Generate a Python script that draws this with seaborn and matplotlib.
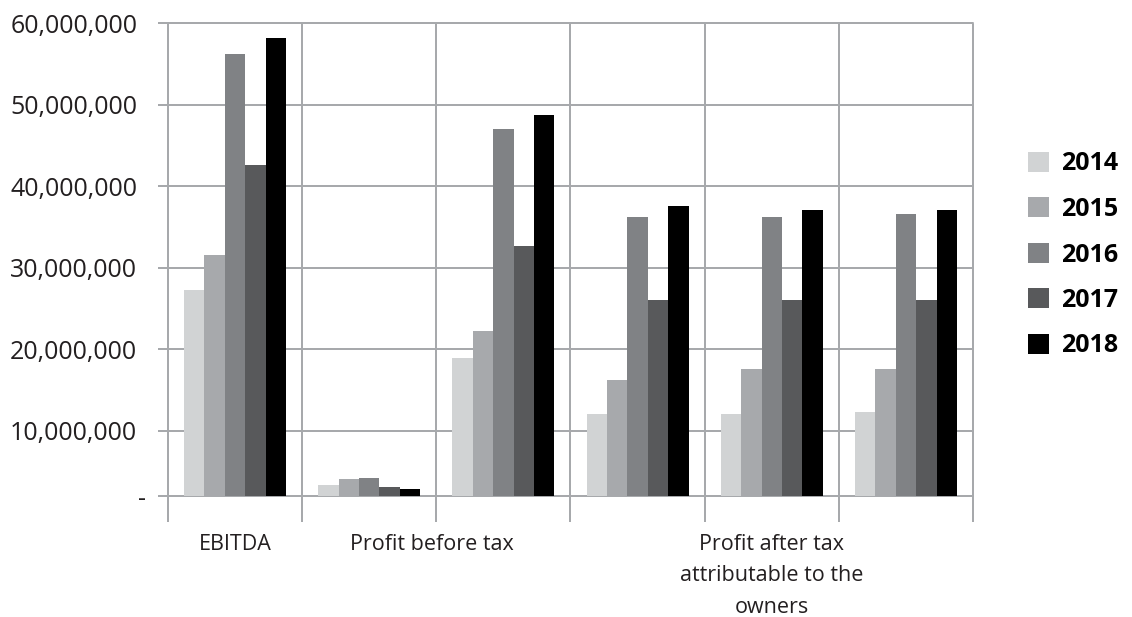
import matplotlib
matplotlib.use("Agg")
import matplotlib.pyplot as plt
from matplotlib.transforms import ScaledTranslation
from matplotlib.patches import Patch
import seaborn as sns
import pandas as pd

# Financial indicators, six groups of bars, one bar per year
group_ids = [0, 1, 2, 3, 4, 5]
years = ["2014", "2015", "2016", "2017", "2018"]
values_2014 = [27_300_000, 3_370_000, 19_000_000, 12_100_000, 12_100_000, 12_300_000]
values_2015 = [31_600_000, 4_100_000, 22_300_000, 16_300_000, 17_600_000, 17_600_000]
values_2016 = [56_300_000, 4_200_000, 47_100_000, 36_300_000, 36_300_000, 36_600_000]
values_2017 = [42_600_000, 3_100_000, 32_700_000, 26_100_000, 26_100_000, 26_100_000]
values_2018 = [58_200_000, 2_900_000, 48_800_000, 37_600_000, 37_100_000, 37_100_000]

axis_labels = ["EBITDA", "Profit before tax",
               "Profit after tax\nattributable to the\nowners"]
axis_label_pos = [0, 1.47, 4]

y_ticks = [2_000_000, 10_000_000, 20_000_000, 30_000_000,
           40_000_000, 50_000_000, 60_000_000]

series = [values_2014, values_2015, values_2016, values_2017, values_2018]
colors = ["#D1D3D4", "#A7A9AC", "#808285", "#58595B", "#000000"]

rows = []
for yr, vals in zip(years, series):
    for g, v in zip(group_ids, vals):
        rows.append({"group": g, "year": yr, "value": v})
df = pd.DataFrame(rows)

sns.set_theme(style="white")
plt.rcParams["font.family"] = ["Open Sans", "DejaVu Sans"]

grid_col = "#A7A9AC"
text_col = "#231F20"

fig = plt.figure(figsize=(11.32, 6.17), dpi=100)
ax = fig.add_axes([168 / 1132, 121 / 617, 805 / 1132, 472.5 / 617])

sns.barplot(data=df, x="group", y="value", hue="year", hue_order=years,
            palette=colors, width=0.76, saturation=1, ax=ax, legend=False,
            errorbar=None, linewidth=0, edgecolor="none")

ax.set_xlim(-0.5, 5.5)
ax.set_ylim(2_000_000, 60_000_000)
ax.set_axisbelow(True)

for s in ax.spines.values():
    s.set_visible(False)

# y axis: gridlines + outward ticks
ax.set_yticks(y_ticks)
ax.set_yticklabels(["-"] + [f"{v:,.0f}" for v in y_ticks[1:]])
ax.tick_params(axis="y", which="major", direction="out", length=7.2,
               width=1.44, color=grid_col, pad=15, labelsize=18,
               labelcolor=text_col, left=True)
ax.yaxis.grid(True, color=grid_col, linewidth=1.44)

# x axis: boundaries between groups carry the gridlines and long ticks
ax.set_xticks([-0.5 + i for i in range(7)], minor=True)
ax.set_xticks(axis_label_pos)
ax.set_xticklabels(axis_labels, linespacing=1.66)
ax.tick_params(axis="x", which="minor", direction="out", length=19,
               width=1.44, color=grid_col, bottom=True)
ax.tick_params(axis="x", which="major", length=0, pad=27, labelsize=15.5,
               labelcolor=text_col)
ax.xaxis.grid(True, which="minor", color=grid_col, linewidth=1.44)
ax.xaxis.grid(False, which="major")
ax.set_xlabel("")
ax.set_ylabel("")

for tick in ax.xaxis.get_minor_ticks() + ax.yaxis.get_major_ticks():
    tick.gridline.set_clip_on(False)

# the zero-style dash sits a little to the right
dash = ax.get_yticklabels()[0]
dash.set_transform(dash.get_transform() +
                   ScaledTranslation(9 / 100, 0, fig.dpi_scale_trans))

handles = [Patch(facecolor=c, edgecolor="none", label=y)
           for c, y in zip(colors, years)]
leg = fig.legend(handles=handles, loc="center left",
                 bbox_to_anchor=(1028 / 1132, 1 - 255 / 617),
                 frameon=False, borderpad=0, borderaxespad=0,
                 handlelength=0.84, handleheight=0.84, handletextpad=0.5,
                 labelspacing=0.82, prop={"size": 18, "weight": "bold"})
for t in leg.get_texts():
    t.set_color("#000000")

fig.savefig("out.png", dpi=100)
